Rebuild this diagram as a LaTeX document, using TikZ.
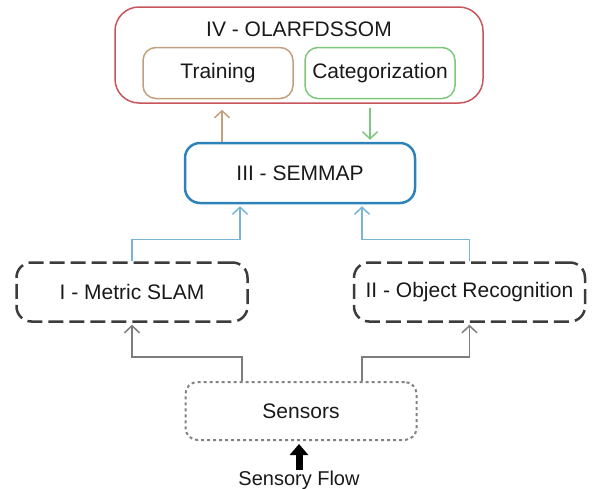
\documentclass[tikz,border=0pt]{standalone}
\usepackage{fontspec}
\setmainfont{Liberation Sans}
\usetikzlibrary{arrows.meta}
\definecolor{ivred}{RGB}{200,85,92}
\definecolor{tan}{RGB}{195,160,125}
\definecolor{catgreen}{RGB}{125,200,125}
\definecolor{semblue}{RGB}{45,130,185}
\definecolor{arrblue}{RGB}{120,180,215}
\definecolor{dashgray}{RGB}{60,60,60}
\definecolor{dotgray}{RGB}{130,130,130}
\definecolor{linegray}{RGB}{125,125,125}
\definecolor{txt}{RGB}{25,25,25}
\tikzset{
  lbl/.style={font=\fontsize{21}{25}\selectfont, text=txt, inner sep=0pt},
  box/.style={lbl, draw, rounded corners=13pt},
  outerbox/.style={draw=ivred, line width=1.5pt, rounded corners=24pt, minimum width=368pt, minimum height=96pt, inner sep=0pt},
  subbox/.style={box, line width=1.5pt, minimum width=150pt, minimum height=51pt},
  sembox/.style={box, draw=semblue, line width=2.5pt, minimum width=230pt, minimum height=60pt, rounded corners=15pt},
  modbox/.style={box, draw=dashgray, line width=2.5pt, dash pattern=on 15pt off 6pt, minimum width=231pt, minimum height=59pt, rounded corners=15pt},
  sensbox/.style={box, draw=dotgray, line width=2pt, dash pattern=on 3pt off 3pt, minimum width=231pt, minimum height=58pt, rounded corners=12pt},
  conn/.style={line width=1.5pt, -{Straight Barb[length=7pt,width=15pt]}},
}
\begin{document}
\begin{tikzpicture}[x=1pt,y=-1pt]
\useasboundingbox (0,0) rectangle (595,488);
% boxes
\node[outerbox] (iv) at (299,55) {};
\node[lbl] (ivtitle) at (299,29) {IV - OLARFDSSOM};
\node[subbox, draw=tan] (train) at (218,73) {Training};
\node[subbox, draw=catgreen] (cat) at (380,73) {Categorization};
\node[sembox] (sem) at (300,173) {III - SEMMAP};
\node[modbox] (slam) at (132,292) {I - Metric SLAM};
\node[modbox] (obj) at (469.5,292) {II - Object Recognition};
\node[sensbox] (sens) at (301,411) {Sensors};
\coordinate (flow) at (299,470);
\node[lbl, font=\fontsize{20}{24}\selectfont, anchor=base] (flowlbl) at (299,485) {Sensory Flow};
% connectors
\draw[conn, draw=tan] ([xshift=-78pt]sem.north) -- ([xshift=-77pt,yshift=-6pt]iv.south);
\draw[conn, draw=catgreen] ([xshift=71pt,yshift=-4pt]iv.south) -- ([xshift=70pt,yshift=2pt]sem.north);
\draw[conn, draw=arrblue] (slam.north) -- ++(0,-22) -| ([xshift=-60pt,yshift=-2pt]sem.south);
\draw[conn, draw=arrblue] (obj.north) -- ++(0,-22) -| ([xshift=62pt,yshift=-2pt]sem.south);
\draw[conn, draw=linegray] ([xshift=-59pt]sens.north) -- ++(0,-24) -| ([yshift=-2pt]slam.south);
\draw[conn, draw=linegray] ([xshift=61pt]sens.north) -- ++(0,-24) -| ([yshift=-2pt]obj.south);
\draw[line width=7pt, -{Triangle[length=11pt,width=18pt]}] (flow) -- ([yshift=-3pt]flow |- sens.south);
\end{tikzpicture}
\end{document}
